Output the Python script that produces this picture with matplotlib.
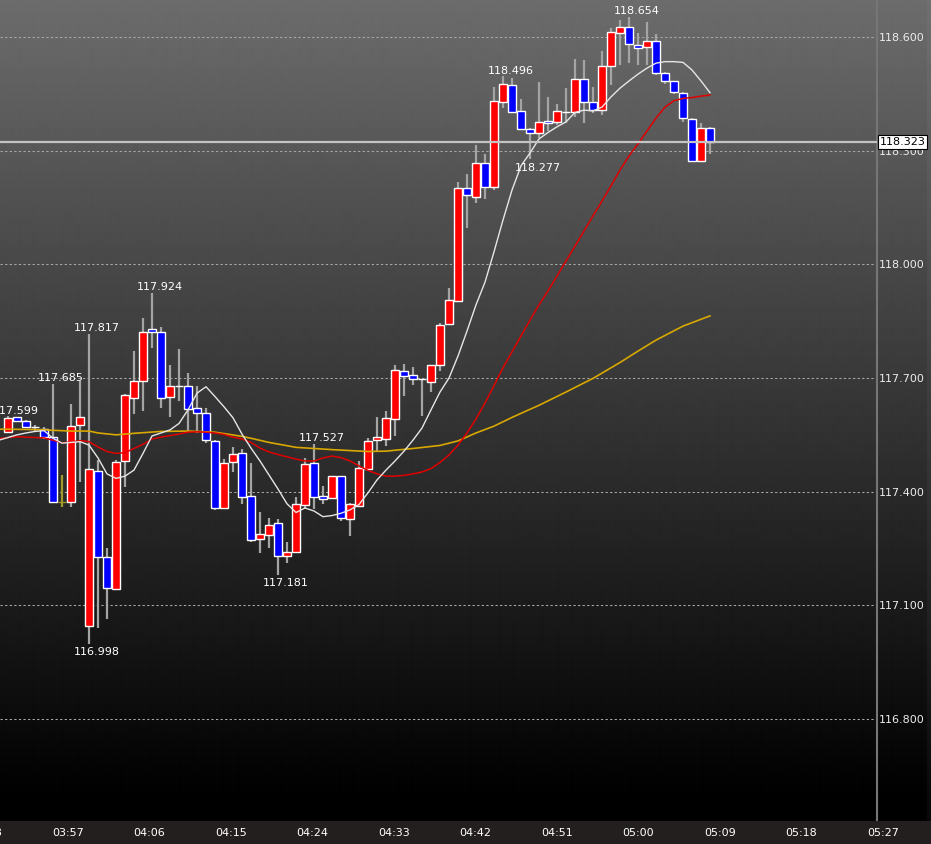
import matplotlib
matplotlib.use("Agg")
import matplotlib.pyplot as plt
import matplotlib.transforms as mtransforms
import numpy as np

# one candle per minute, minutes counted from 05:00 (03:50 .. 05:08)
minutes = list(range(-70, 9))
opens = [117.558, 117.596, 117.587, 117.572, 117.566, 117.545, 117.374, 117.374, 117.577, 117.046,
         117.455, 117.228, 117.144, 117.481, 117.647, 117.692, 117.829, 117.822, 117.651, 117.679,
         117.678, 117.620, 117.607, 117.535, 117.357, 117.478, 117.503, 117.389, 117.276, 117.285,
         117.317, 117.231, 117.240, 117.366, 117.475, 117.388, 117.384, 117.441, 117.328, 117.363,
         117.460, 117.536, 117.540, 117.591, 117.719, 117.708, 117.697, 117.690, 117.735, 117.843,
         117.903, 118.202, 118.179, 118.268, 118.204, 118.428, 118.473, 118.406, 118.357, 118.346,
         118.378, 118.376, 118.403, 118.402, 118.490, 118.429, 118.407, 118.524, 118.610, 118.627,
         118.579, 118.573, 118.590, 118.506, 118.483, 118.452, 118.384, 118.273, 118.359]
highs = [117.599, 117.598, 117.589, 117.576, 117.572, 117.685, 117.444, 117.631, 117.693, 117.817,
         117.484, 117.252, 117.484, 117.658, 117.771, 117.858, 117.924, 117.835, 117.734, 117.776,
         117.713, 117.680, 117.621, 117.536, 117.486, 117.517, 117.513, 117.475, 117.346, 117.331,
         117.327, 117.266, 117.385, 117.488, 117.527, 117.415, 117.441, 117.441, 117.369, 117.481,
         117.542, 117.598, 117.613, 117.734, 117.737, 117.729, 117.698, 117.734, 117.845, 117.938,
         118.218, 118.238, 118.314, 118.291, 118.467, 118.496, 118.492, 118.436, 118.359, 118.481,
         118.441, 118.423, 118.465, 118.541, 118.539, 118.467, 118.563, 118.623, 118.645, 118.654,
         118.610, 118.640, 118.607, 118.508, 118.484, 118.456, 118.386, 118.374, 118.363]
lows = [117.557, 117.586, 117.571, 117.557, 117.539, 117.373, 117.360, 117.360, 117.426, 116.998,
        117.041, 117.064, 117.143, 117.413, 117.605, 117.614, 117.780, 117.620, 117.598, 117.640,
        117.561, 117.555, 117.529, 117.352, 117.357, 117.453, 117.368, 117.268, 117.237, 117.251,
        117.181, 117.213, 117.240, 117.354, 117.354, 117.368, 117.384, 117.323, 117.284, 117.360,
        117.460, 117.505, 117.521, 117.548, 117.653, 117.682, 117.601, 117.664, 117.719, 117.843,
        117.903, 118.096, 118.163, 118.172, 118.196, 118.413, 118.399, 118.355, 118.277, 118.333,
        118.352, 118.368, 118.372, 118.390, 118.373, 118.399, 118.394, 118.473, 118.526, 118.531,
        118.526, 118.526, 118.500, 118.476, 118.450, 118.376, 118.272, 118.272, 118.291]
closes = [117.595, 117.587, 117.572, 117.572, 117.544, 117.374, 117.374, 117.573, 117.597, 117.461,
          117.227, 117.147, 117.478, 117.654, 117.693, 117.821, 117.822, 117.648, 117.679, 117.679,
          117.619, 117.607, 117.536, 117.356, 117.477, 117.499, 117.385, 117.273, 117.288, 117.312,
          117.231, 117.241, 117.368, 117.473, 117.385, 117.380, 117.441, 117.330, 117.367, 117.462,
          117.534, 117.544, 117.594, 117.720, 117.706, 117.698, 117.697, 117.734, 117.841, 117.905,
          118.202, 118.183, 118.268, 118.205, 118.430, 118.476, 118.401, 118.357, 118.346, 118.375,
          118.372, 118.404, 118.403, 118.490, 118.429, 118.407, 118.524, 118.612, 118.626, 118.581,
          118.572, 118.590, 118.504, 118.485, 118.456, 118.385, 118.273, 118.359, 118.323]
marked_doji = [-64]

# moving averages
ma_fast_k = list(range(-71, 9))
ma_fast = [117.536, 117.543, 117.550, 117.555, 117.559, 117.561, 117.541, 117.528, 117.530, 117.532,
           117.523, 117.489, 117.447, 117.435, 117.441, 117.457, 117.501, 117.547, 117.555, 117.563,
           117.580, 117.616, 117.660, 117.677, 117.651, 117.624, 117.595, 117.552, 117.515, 117.481,
           117.444, 117.407, 117.368, 117.345, 117.357, 117.349, 117.334, 117.337, 117.343, 117.352,
           117.366, 117.397, 117.431, 117.457, 117.481, 117.507, 117.536, 117.568, 117.616, 117.663,
           117.700, 117.758, 117.824, 117.893, 117.953, 118.033, 118.117, 118.196, 118.260, 118.294,
           118.331, 118.348, 118.363, 118.376, 118.401, 118.407, 118.405, 118.415, 118.442, 118.465,
           118.484, 118.502, 118.518, 118.531, 118.535, 118.535, 118.533, 118.513, 118.484, 118.453]
ma_mid_k = list(range(-71, 9))
ma_mid = [117.540, 117.543, 117.545, 117.544, 117.543, 117.542, 117.536, 117.529, 117.531, 117.535,
          117.532, 117.518, 117.506, 117.501, 117.503, 117.514, 117.525, 117.539, 117.544, 117.548,
          117.552, 117.557, 117.558, 117.557, 117.555, 117.551, 117.544, 117.539, 117.530, 117.515,
          117.505, 117.498, 117.492, 117.486, 117.481, 117.481, 117.489, 117.494, 117.490, 117.481,
          117.468, 117.456, 117.447, 117.441, 117.441, 117.443, 117.447, 117.452, 117.461, 117.477,
          117.497, 117.523, 117.555, 117.592, 117.634, 117.680, 117.727, 117.769, 117.811, 117.853,
          117.893, 117.930, 117.969, 118.009, 118.048, 118.088, 118.128, 118.167, 118.207, 118.249,
          118.286, 118.318, 118.352, 118.386, 118.415, 118.432, 118.438, 118.440, 118.444, 118.447]
ma_slow_k = [-71, -67, -63, -61, -60, -58, -56, -53, -50, -47, -44, -43, -41, -38, -34, -30,
             -28, -25, -22, -20, -18, -16, -14, -11, -8, -5, -2, 0, 2, 5, 8]
ma_slow = [117.565, 117.564, 117.560, 117.560, 117.555, 117.550, 117.554, 117.559, 117.560, 117.557,
           117.546, 117.541, 117.530, 117.517, 117.511, 117.506, 117.507, 117.514, 117.522, 117.534,
           117.555, 117.573, 117.596, 117.628, 117.663, 117.699, 117.741, 117.771, 117.800, 117.837,
           117.864]

high_marks = [-70, -65, -61, -54, -36, -15, -1]
low_marks = [-61, -40, -12]

price_levels = [116.8, 117.1, 117.4, 117.7, 118.0, 118.3, 118.6]
time_ticks = [-72, -63, -54, -45, -36, -27, -18, -9, 0, 9, 18, 27]
time_labels = ["03:48", "03:57", "04:06", "04:15", "04:24", "04:33", "04:42", "04:51",
               "05:00", "05:09", "05:18", "05:27"]
last_price = closes[-1]

W, H = 931, 844
plot_w, plot_h, strip_h = 877, 821, 23
x0, step = 638.0, 9.0
kmin = -x0 / step
kmax_plot = (plot_w - x0) / step
ymax, ymin = 118.6977, 116.5308
# the time labels sit on a slightly wider spacing than the candles
lx0, lstep = 638.5, 815.0 / 90

fig = plt.figure(figsize=(W / 100, H / 100), dpi=100)
fig.patch.set_facecolor("black")

# gradient background of the chart region
bg = fig.add_axes([0, strip_h / H, 1, plot_h / H])
rows = np.arange(plot_h)
shade = np.clip(108 * (1 - rows / 800.0), 0, None) / 255.0
bg.imshow(shade[:, None], cmap="gray", vmin=0, vmax=1, aspect="auto",
          extent=[0, 1, 0, 1], interpolation="bilinear")
bg.axvspan(927 / W, 1, color="white", alpha=0.04, lw=0)
bg.set_xlim(0, 1)
bg.set_ylim(0, 1)
bg.axis("off")

ax = fig.add_axes([0, strip_h / H, plot_w / W, plot_h / H])
ax.patch.set_alpha(0)
ax.set_xlim(kmin, kmax_plot)
ax.set_ylim(ymin, ymax)

colors = []
edges = []
for k, o, c in zip(minutes, opens, closes):
    if c > o:
        colors.append("#ff0000")
        edges.append("white")
    elif c < o:
        colors.append("#0000ff")
        edges.append("white")
    else:
        colors.append("white")
        edges.append("#a09a28" if k in marked_doji else "white")
wick_cols = ["#a09a28" if k in marked_doji else "#a4a4a4" for k in minutes]

ax.vlines(minutes, lows, highs, colors=wick_cols, lw=1.6, zorder=2)
bottoms = [min(o, c) for o, c in zip(opens, closes)]
heights = [abs(c - o) for o, c in zip(opens, closes)]
ax.bar(minutes, heights, bottom=bottoms, width=0.78, color=colors,
       edgecolor=edges, linewidth=1.0, zorder=3)

ax.plot(ma_slow_k, ma_slow, color="#d8a800", lw=1.2, zorder=4)
ax.plot(ma_mid_k, ma_mid, color="#e00000", lw=1.1, zorder=4)
ax.plot(ma_fast_k, ma_fast, color="#e6e6e6", lw=1.0, zorder=4)

ax.axhline(last_price, color="#c4c4c4", lw=1.6, zorder=5)

for k in high_marks:
    v = highs[minutes.index(k)]
    ax.annotate(f"{v:.3f}", (k, v), xytext=(5.8, 2.0), textcoords="offset points",
                ha="center", va="baseline", color="white", fontsize=8,
                annotation_clip=False, zorder=6)
for k in low_marks:
    v = lows[minutes.index(k)]
    ax.annotate(f"{v:.3f}", (k, v), xytext=(5.8, -8.2), textcoords="offset points",
                ha="center", va="baseline", color="white", fontsize=8,
                annotation_clip=False, zorder=6)

ax.set_yticks(price_levels)
ax.set_yticklabels([f"{v:.3f}" for v in price_levels])
ax.yaxis.tick_right()
ax.tick_params(axis="y", length=0, pad=1.2, labelcolor="#ececec", labelsize=8)
ax.set_xticks([])
ax.grid(axis="y", color="#a8a8a8", ls=(0, (2.2, 2.2)), lw=0.75)
for side in ["top", "left", "bottom"]:
    ax.spines[side].set_visible(False)
ax.spines["right"].set_color("#767676")
ax.spines["right"].set_linewidth(1.5)

trans = mtransforms.blended_transform_factory(ax.transAxes, ax.transData)
ax.text(1.003, last_price, f"{last_price:.3f}", transform=trans, ha="left", va="center",
        fontsize=8, color="black", zorder=10, clip_on=False,
        bbox=dict(boxstyle="square,pad=0.15", fc="white", ec="black", lw=0.8))

# time axis strip
sax = fig.add_axes([0, 0, 1, strip_h / H])
sax.set_facecolor("#231f1f")
sax.set_xlim(-lx0 / lstep, (W - lx0) / lstep)
sax.set_ylim(0, 1)
sax.set_xticks([])
sax.set_yticks([])
for s in sax.spines.values():
    s.set_visible(False)
for k, lab in zip(time_ticks, time_labels):
    sax.text(k, 0.5, lab, ha="center", va="center", color="white", fontsize=8, clip_on=False)

fig.savefig("out.png", dpi=100, facecolor=fig.get_facecolor())
